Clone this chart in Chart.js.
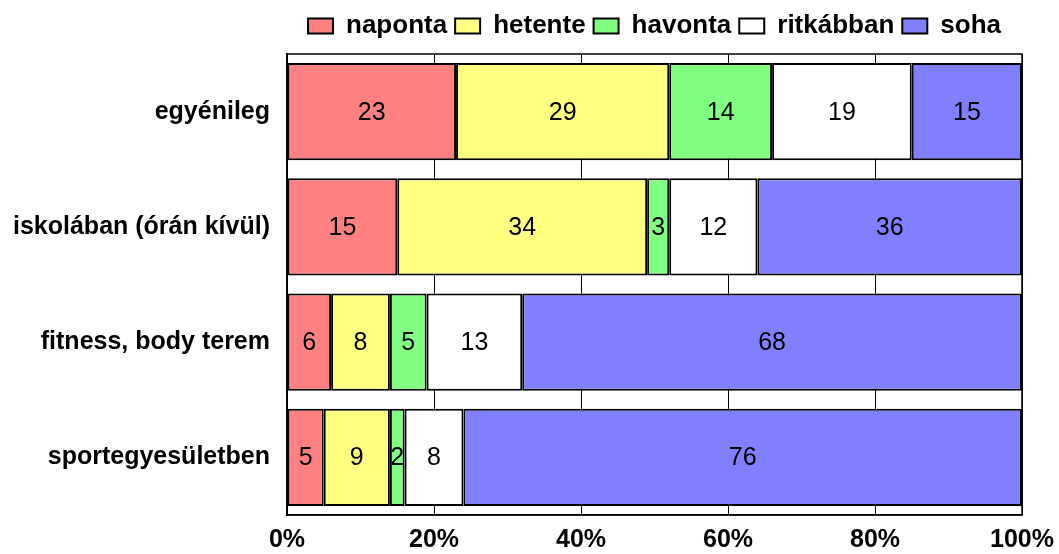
<!DOCTYPE html>
<html>
<head>
<meta charset="utf-8">
<script src="https://cdn.jsdelivr.net/npm/chart.js@4.4.1/dist/chart.umd.min.js"></script>
<style>
  html, body { margin: 0; padding: 0; background: #fff; }
</style>
</head>
<body>
<canvas id="chart" width="1059" height="554"></canvas>
<script>
  const categories = ['egyénileg', 'iskolában (órán kívül)', 'fitness, body terem', 'sportegyesületben'];
  const seriesNames = ['naponta', 'hetente', 'havonta', 'ritkábban', 'soha'];
  const naponta = [23, 15, 6, 5];
  const hetente = [29, 34, 8, 9];
  const havonta = [14, 3, 5, 2];
  const ritkabban = [19, 12, 13, 8];
  const soha = [15, 36, 68, 76];
  const tickValues = [0, 20, 40, 60, 80, 100];

  const seriesValues = [naponta, hetente, havonta, ritkabban, soha];
  const colors = ['#ff8080', '#ffff80', '#80ff80', '#ffffff', '#8080ff'];
  const FONT = '"Liberation Sans", Arial, sans-serif';

  // value labels + closed frame round the plot, legend centred over the plot
  const framePlugin = {
    id: 'frame',
    beforeLayout(chart) {
      const legend = chart.legend;
      if (legend && !legend._extraGap) {
        const fit = legend.fit;
        legend.fit = function () {
          fit.call(this);
          this.height += 5;
        };
        legend._extraGap = true;
      }
    },
    afterLayout(chart) {
      const legend = chart.legend;
      const area = chart.chartArea;
      if (legend) {
        legend.left = area.left;
        legend.right = area.right;
        legend.width = area.right - area.left;
      }
    },
    afterDatasetsDraw(chart) {
      const ctx = chart.ctx;
      const area = chart.chartArea;
      ctx.save();
      ctx.font = '25px ' + FONT;
      ctx.fillStyle = '#000';
      ctx.textAlign = 'center';
      ctx.textBaseline = 'middle';
      chart.data.datasets.forEach((ds, i) => {
        chart.getDatasetMeta(i).data.forEach((bar, j) => {
          const p = bar.getCenterPoint();
          ctx.fillText(String(ds.data[j]), p.x, p.y + 1);
        });
      });
      ctx.strokeStyle = '#000';
      ctx.lineWidth = 1.5;
      ctx.strokeRect(area.left, area.top, area.right - area.left, area.bottom - area.top);
      ctx.restore();
    },
  };

  new Chart(document.getElementById('chart'), {
    type: 'bar',
    data: {
      labels: categories,
      datasets: seriesNames.map((name, i) => ({
        label: name,
        data: seriesValues[i],
        backgroundColor: colors[i],
        borderColor: '#000',
        borderWidth: 2,
        borderSkipped: false,
        barPercentage: 0.845,
        categoryPercentage: 1,
      })),
    },
    options: {
      indexAxis: 'y',
      responsive: false,
      animation: false,
      layout: { padding: { top: 5, right: 37, left: 0, bottom: 0 } },
      plugins: {
        tooltip: { enabled: false },
        legend: {
          position: 'top',
          align: 'center',
          labels: {
            boxWidth: 25,
            boxHeight: 15,
            padding: 8,
            color: '#000',
            font: { family: FONT, size: 26, weight: 'bold' },
          },
        },
      },
      scales: {
        x: {
          stacked: true,
          min: 0,
          max: 100,
          afterBuildTicks(scale) {
            scale.ticks = tickValues.map((v) => ({ value: v }));
          },
          afterFit(scale) {
            scale.height = 39;
            scale.paddingLeft = 0;
            scale.paddingRight = 0;
          },
          ticks: {
            callback: (v) => v + '%',
            color: '#000',
            padding: 10,
            maxRotation: 0,
            font: { family: FONT, size: 25, weight: 'bold' },
          },
          grid: { color: '#000', lineWidth: 1, drawTicks: false },
          border: { color: '#000', width: 1.5 },
        },
        y: {
          stacked: true,
          afterFit(scale) {
            scale.width = 287;
          },
          ticks: {
            color: '#000',
            padding: 17,
            font: { family: FONT, size: 25, weight: 'bold' },
          },
          grid: { display: false, drawTicks: false },
          border: { color: '#000', width: 1.5 },
        },
      },
    },
    plugins: [framePlugin],
  });
</script>
</body>
</html>
